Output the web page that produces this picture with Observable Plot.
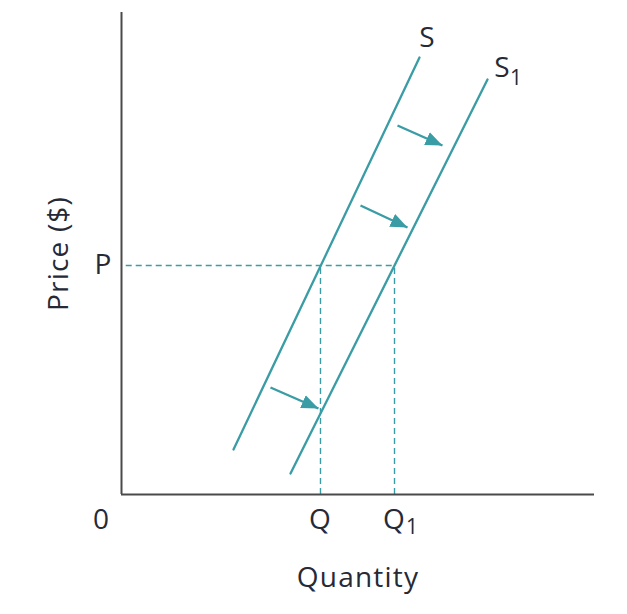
<!DOCTYPE html>
<html>
<head>
<meta charset="utf-8">
<script src="https://cdn.jsdelivr.net/npm/d3@7"></script>
<script src="https://cdn.jsdelivr.net/npm/@observablehq/plot@0.6"></script>
<style>
  html, body { margin: 0; padding: 0; background: #fff; }
  #chart svg { display: block; }
</style>
</head>
<body>
<div id="chart"></div>
<script>
// ---- Data (abstract units on 0–10 axes) ----
const supplyS  = [{x: 2.368, y: 0.934}, {x: 6.300, y: 9.066}];
const supplyS1 = [{x: 3.573, y: 0.436}, {x: 7.738, y: 8.610}];
const priceP = 4.751;
const qtyQ = 4.207;
const qtyQ1 = 5.772;
const shiftArrows = [
  {x1: 5.835, y1: 7.656, x2: 6.786, y2: 7.241},
  {x1: 5.053, y1: 5.996, x2: 6.047, y2: 5.539},
  {x1: 3.150, y1: 2.220, x2: 4.165, y2: 1.784}
];
const originLabel = [{x: 0, t: "0"}];
const xTickLabels = [{x: qtyQ, t: "Q"}, {x: qtyQ1, t: "Q"}];
const yTickLabels = [{y: priceP, t: "P"}];
const xTitle = "Quantity";
const yTitle = "Price ($)";

const teal = "#3a9ca5";
const ink = "#262a36";

function filledHead(color, context) {
  const doc = (context && context.document) || document;
  const ns = "http://www.w3.org/2000/svg";
  const m = doc.createElementNS(ns, "marker");
  m.setAttribute("viewBox", "-17 -7.5 17 15");
  m.setAttribute("markerWidth", "17");
  m.setAttribute("markerHeight", "15");
  m.setAttribute("markerUnits", "userSpaceOnUse");
  m.setAttribute("orient", "auto");
  m.setAttribute("fill", color);
  m.setAttribute("stroke", "none");
  const p = doc.createElementNS(ns, "path");
  p.setAttribute("d", "M-17,-7L0,0L-17,7Z");
  m.appendChild(p);
  return m;
}

const chart = Plot.plot({
  width: 627,
  height: 614,
  marginLeft: 121,
  marginRight: 33,
  marginTop: 12,
  marginBottom: 120,
  x: {domain: [0, 10], axis: null},
  y: {domain: [0, 10], axis: null},
  style: {fontFamily: "'Open Sans', sans-serif", color: ink, background: "#fff", letterSpacing: "1.2px"},
  marks: [
    // dashed guides
    Plot.ruleY([priceP], {x1: 0.1, x2: qtyQ1, stroke: teal, strokeWidth: 1.4, strokeDasharray: "6,4"}),
    Plot.ruleX([qtyQ, qtyQ1], {y1: 0, y2: priceP, stroke: teal, strokeWidth: 1.4, strokeDasharray: "6,4"}),
    // axes
    Plot.ruleX([0], {stroke: "#4a4a4a", strokeWidth: 2}),
    Plot.ruleY([0], {stroke: "#4a4a4a", strokeWidth: 2}),
    // supply curves
    Plot.line(supplyS, {x: "x", y: "y", stroke: teal, strokeWidth: 2.3}),
    Plot.line(supplyS1, {x: "x", y: "y", stroke: teal, strokeWidth: 2.3}),
    // shift arrows
    Plot.link(shiftArrows, {x1: "x1", y1: "y1", x2: "x2", y2: "y2", stroke: teal, strokeWidth: 2.4, markerEnd: filledHead}),
    // curve labels
    Plot.text([supplyS[1]], {x: "x", y: "y", text: () => "S", dx: 8, dy: -19, fontSize: 28, fill: ink}),
    Plot.text([supplyS1[1]], {x: "x", y: "y", text: () => "S", dx: 15, dy: -11, fontSize: 28, fill: ink}),
    Plot.text([supplyS1[1]], {x: "x", y: "y", text: () => "1", dx: 29, dy: -1, fontSize: 21, fill: ink}),
    // x tick labels
    Plot.text(originLabel, {x: "x", text: "t", frameAnchor: "bottom", lineAnchor: "middle", dx: -20, dy: 26, fontSize: 28, fill: ink}),
    Plot.text(xTickLabels, {x: "x", text: "t", frameAnchor: "bottom", lineAnchor: "middle", dy: 26, fontSize: 28, fill: ink}),
    Plot.text([{x: qtyQ1}], {x: "x", text: () => "1", frameAnchor: "bottom", lineAnchor: "middle", dx: 18, dy: 33, fontSize: 21, fill: ink}),
    // y tick labels
    Plot.text(yTickLabels, {y: "y", text: "t", frameAnchor: "left", dx: -9, textAnchor: "end", fontSize: 28, fill: ink}),
    // axis titles
    Plot.text([{x: 5}], {x: "x", text: () => xTitle, frameAnchor: "bottom", lineAnchor: "middle", dy: 84, fontSize: 28, fill: ink}),
    Plot.text([{y: 5}], {y: "y", text: () => yTitle, frameAnchor: "left", textAnchor: "middle", lineAnchor: "middle", dx: -62, rotate: -90, fontSize: 28, fill: ink})
  ]
});
document.getElementById("chart").appendChild(chart);
</script>
</body>
</html>
